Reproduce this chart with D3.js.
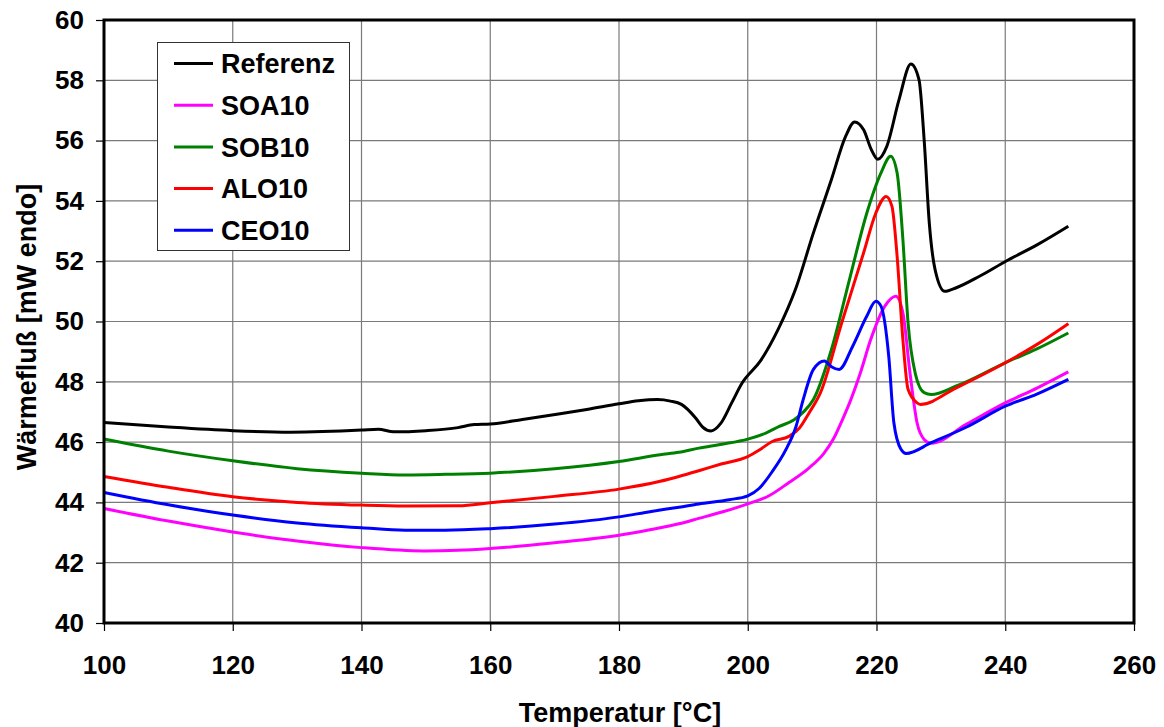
<!DOCTYPE html>
<html>
<head>
<meta charset="utf-8">
<script src="https://cdn.jsdelivr.net/npm/d3@7"></script>
<style>
  body { margin: 0; background: #fff; }
  svg { display: block; font-family: "Liberation Sans", Arial, sans-serif; font-weight: bold; }
</style>
</head>
<body>
<svg id="chart" width="1164" height="727"></svg>
<script>
// temperature [°C], heat flow [mW endo]
const referenz = [
  [100, 46.65], [110, 46.5], [120, 46.38], [129, 46.33], [140, 46.4], [142.6, 46.43], [145, 46.34],
  [150, 46.38], [155, 46.48], [157.5, 46.58], [160, 46.6], [165, 46.75], [170.6, 46.93], [175, 47.08],
  [180, 47.27], [183, 47.37], [186, 47.41], [188, 47.36], [189.7, 47.25], [191.9, 46.8], [193, 46.5],
  [194.3, 46.37], [195.8, 46.62], [197.5, 47.3], [199.1, 47.95], [202, 48.7], [204.7, 49.73],
  [207.4, 51.06], [210.2, 52.94], [213, 54.71], [215.2, 56.14], [216.6, 56.62], [218, 56.36],
  [219.2, 55.7], [220.2, 55.38], [221.6, 55.81], [223.5, 57.36], [225.35, 58.54], [226.6, 58.02],
  [227.4, 56.03], [228.2, 53.27], [229.1, 51.72], [230.6, 51.0], [232.4, 51.12], [236, 51.5],
  [240.1, 52.0], [245, 52.55], [249.8, 53.16]
];
const soa10 = [
  [100, 43.8], [110, 43.38], [120, 43.02], [130, 42.72], [140, 42.5], [149.7, 42.39], [155, 42.41],
  [160, 42.47], [170, 42.66], [180, 42.91], [185, 43.1], [189.3, 43.29], [192.4, 43.47], [196, 43.68],
  [200, 43.95], [203.3, 44.22], [206.4, 44.66], [209.5, 45.14], [211.8, 45.62], [213.3, 46.1],
  [214.7, 46.74], [216, 47.4], [217.5, 48.3], [219.1, 49.4], [221.3, 50.51], [223, 50.84],
  [224.1, 50.29], [225.2, 48.3], [226.3, 46.64], [227.4, 46.09], [228.5, 45.96], [234, 46.6],
  [240, 47.3], [245, 47.8], [249.8, 48.33]
];
const sob10 = [
  [100, 46.1], [110, 45.7], [120, 45.38], [130, 45.12], [140, 44.97], [146.8, 44.91], [153, 44.93],
  [160, 44.97], [170, 45.12], [180, 45.36], [186.4, 45.58], [189.3, 45.66], [192.4, 45.8], [196, 45.93],
  [200, 46.1], [202.8, 46.3], [204.9, 46.52], [207.2, 46.74], [208.7, 47.01], [210.2, 47.41],
  [213, 49.07], [215.8, 51.39], [218.5, 53.6], [220.7, 54.93], [222.2, 55.48], [223.2, 54.93],
  [224.1, 52.72], [224.9, 49.96], [226, 48.3], [227.4, 47.64], [228.5, 47.58], [232.4, 47.86],
  [240, 48.63], [245, 49.1], [249.8, 49.62]
];
const alo10 = [
  [100, 44.86], [110, 44.5], [120, 44.19], [130, 44.0], [140, 43.91], [146.8, 43.88], [155.1, 43.89],
  [160, 43.99], [170, 44.2], [180, 44.44], [186.4, 44.7], [189.3, 44.86], [192.4, 45.05], [196, 45.28],
  [200, 45.52], [201.8, 45.74], [203.8, 46.02], [206.4, 46.19], [208, 46.46], [209.5, 46.96],
  [211.3, 47.64], [214.6, 49.96], [218, 52.28], [219.9, 53.6], [221.5, 54.15], [222.4, 53.82],
  [223.2, 52.17], [224.1, 49.4], [224.9, 47.75], [226.3, 47.3], [226.8, 47.25], [232.4, 47.8],
  [240, 48.63], [245, 49.25], [249.8, 49.93]
];
const ceo10 = [
  [100, 44.33], [110, 43.92], [120, 43.58], [130, 43.32], [140, 43.16], [146.8, 43.08], [153, 43.08],
  [160, 43.13], [170, 43.28], [180, 43.52], [185, 43.7], [189.3, 43.84], [192.4, 43.95], [197.1, 44.09],
  [200, 44.22], [201.8, 44.47], [203.8, 45.02], [205.9, 45.74], [207.5, 46.52], [208.6, 47.4],
  [210.2, 48.41], [211.9, 48.69], [213, 48.5], [214.2, 48.41], [216.3, 49.18], [218.5, 50.18],
  [219.9, 50.67], [220.7, 50.51], [221.9, 48.85], [222.7, 46.64], [223.8, 45.76], [224.6, 45.62],
  [228.5, 45.98], [234, 46.5], [240, 47.19], [245, 47.6], [249.8, 48.08]
];

const seriesNames = ['Referenz', 'SOA10', 'SOB10', 'ALO10', 'CEO10'];
const seriesData = [referenz, soa10, sob10, alo10, ceo10];
const seriesColors = ['#000000', '#ff00ff', '#008000', '#ff0000', '#0000ff'];

const xTicks = [100, 120, 140, 160, 180, 200, 220, 240, 260];
const yTicks = [40, 42, 44, 46, 48, 50, 52, 54, 56, 58, 60];

const margin = { left: 104, right: 30, top: 20, bottom: 104 };
const width = 1164, height = 727;

const svg = d3.select('#chart');

const x = d3.scaleLinear().domain([100, 260]).range([margin.left, width - margin.right]);
const y = d3.scaleLinear().domain([40, 60]).range([height - margin.bottom, margin.top]);

// grid
svg.append('g')
  .selectAll('line')
  .data(xTicks)
  .join('line')
  .attr('x1', (d) => x(d)).attr('x2', (d) => x(d))
  .attr('y1', y(40)).attr('y2', y(60))
  .attr('stroke', '#7a7a7a')
  .attr('stroke-width', 1.2);

svg.append('g')
  .selectAll('line')
  .data(yTicks)
  .join('line')
  .attr('x1', x(100)).attr('x2', x(260))
  .attr('y1', (d) => y(d)).attr('y2', (d) => y(d))
  .attr('stroke', '#7a7a7a')
  .attr('stroke-width', 1.2);

// axes
const xAxis = svg.append('g')
  .attr('transform', `translate(0,${y(40)})`)
  .call(d3.axisBottom(x).tickValues(xTicks).tickSize(8).tickPadding(25).tickFormat(d3.format('d')));
const yAxis = svg.append('g')
  .attr('transform', `translate(${x(100)},0)`)
  .call(d3.axisLeft(y).tickValues(yTicks).tickSize(8).tickPadding(12).tickFormat(d3.format('d')));

[xAxis, yAxis].forEach((g) => {
  g.select('.domain').remove();
  g.selectAll('.tick line').attr('stroke', '#000').attr('stroke-width', 1.2);
  g.selectAll('.tick text')
    .attr('fill', '#000')
    .attr('font-size', 26)
    .attr('font-weight', 'bold')
    .attr('font-family', '"Liberation Sans", Arial, sans-serif');
});

// curves
const line = d3.line()
  .x((d) => x(d[0]))
  .y((d) => y(d[1]))
  .curve(d3.curveMonotoneX);

svg.append('g')
  .selectAll('path')
  .data(seriesData)
  .join('path')
  .attr('d', line)
  .attr('fill', 'none')
  .attr('stroke', (d, i) => seriesColors[i])
  .attr('stroke-width', 3)
  .attr('stroke-linejoin', 'round');

// plot frame
svg.append('rect')
  .attr('x', x(100)).attr('y', y(60))
  .attr('width', x(260) - x(100))
  .attr('height', y(40) - y(60))
  .attr('fill', 'none')
  .attr('stroke', '#000')
  .attr('stroke-width', 3);

// legend
const legend = svg.append('g');
legend.append('rect')
  .attr('x', 157.5).attr('y', 42.5)
  .attr('width', 192).attr('height', 208)
  .attr('fill', '#fff')
  .attr('stroke', '#333')
  .attr('stroke-width', 1);

const rows = legend.selectAll('g.row')
  .data(seriesNames)
  .join('g')
  .attr('class', 'row')
  .attr('transform', (d, i) => `translate(0,${63.5 + i * 41.7})`);
rows.append('line')
  .attr('x1', 174).attr('x2', 213)
  .attr('stroke', (d, i) => seriesColors[i])
  .attr('stroke-width', 3);
rows.append('text')
  .attr('x', 221)
  .attr('dy', '0.36em')
  .attr('font-size', 27)
  .text((d) => d);

// axis titles
svg.append('text')
  .attr('x', (x(100) + x(260)) / 2 + 1)
  .attr('y', 722)
  .attr('text-anchor', 'middle')
  .attr('font-size', 27)
  .text('Temperatur [°C]');

svg.append('text')
  .attr('transform', `translate(36,327) rotate(-90)`)
  .attr('text-anchor', 'middle')
  .attr('font-size', 27)
  .text('Wärmefluß [mW endo]');
</script>
</body>
</html>
